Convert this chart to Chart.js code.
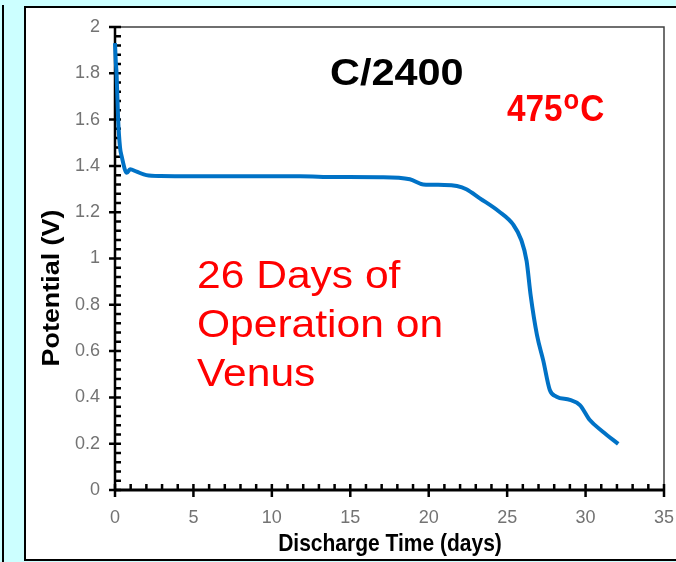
<!DOCTYPE html>
<html>
<head>
<meta charset="utf-8">
<script src="https://cdn.jsdelivr.net/npm/chart.js@4.4.1/dist/chart.umd.min.js"></script>
<style>
  html, body { margin: 0; padding: 0; background: #CCFFFF; }
  canvas { display: block; }
</style>
</head>
<body>
<canvas id="chart-discharge" width="676" height="562"></canvas>
<script>
// discharge curve
const timeDays = [0, 0.05, 0.1, 0.2, 0.32, 0.43, 0.75, 0.96, 1.38, 2.0, 2.9, 6, 11.8, 14, 16.9, 18.8, 19.65, 21.0, 21.8, 22.4, 23.26, 24.5, 25.4, 25.9, 26.24, 26.5, 26.9, 27.3, 27.72, 28.15, 29.0, 29.64, 30.27, 31.1, 32.08];
const potentialV = [1.93, 1.85, 1.80, 1.60, 1.48, 1.44, 1.37, 1.385, 1.375, 1.36, 1.356, 1.355, 1.355, 1.352, 1.351, 1.342, 1.32, 1.318, 1.313, 1.299, 1.26, 1.202, 1.145, 1.08, 0.99, 0.84, 0.67, 0.56, 0.432, 0.403, 0.389, 0.367, 0.302, 0.252, 0.199];

const xTicks = [0, 5, 10, 15, 20, 25, 30, 35];
const xTickLabels = ['0', '5', '10', '15', '20', '25', '30', '35'];
const yTicks = [0, 0.2, 0.4, 0.6, 0.8, 1, 1.2, 1.4, 1.6, 1.8, 2];
const yTickLabels = ['0', '0.2', '0.4', '0.6', '0.8', '1', '1.2', '1.4', '1.6', '1.8', '2'];
const xMinorStep = 1;
const yMinorStep = 0.04;

const FONT = "'Liberation Sans', Arial, sans-serif";
const RED = '#FF0000';

function drawText(ctx, text, x, y, font, color, sx, align, rot) {
    ctx.save();
    ctx.translate(x, y);
    if (rot) ctx.rotate(rot);
    ctx.scale(sx, 1);
    ctx.font = font;
    ctx.fillStyle = color;
    ctx.textAlign = align;
    ctx.textBaseline = 'alphabetic';
    ctx.fillText(text, 0, 0);
    const w = ctx.measureText(text).width * sx;
    ctx.restore();
    return w;
}

const slidePlugin = {
    id: 'slide',
    beforeDraw(chart) {
        const ctx = chart.ctx;
        ctx.save();
        ctx.fillStyle = '#CCFFFF';
        ctx.fillRect(0, 0, chart.width, chart.height);
        ctx.strokeStyle = '#000';
        ctx.lineWidth = 2;
        ctx.beginPath();
        ctx.moveTo(3, 5);
        ctx.lineTo(3, chart.height);
        ctx.stroke();
        ctx.fillStyle = '#FFFFFF';
        ctx.fillRect(24, 6, chart.width - 24, 555);
        ctx.beginPath();
        ctx.moveTo(chart.width + 2, 7);
        ctx.lineTo(25, 7);
        ctx.lineTo(25, 560);
        ctx.lineTo(chart.width + 2, 560);
        ctx.stroke();
        ctx.restore();
    },
    beforeDatasetsDraw(chart) {
        const ctx = chart.ctx;
        const a = chart.chartArea;
        const xs = chart.scales.x;
        const ys = chart.scales.y;
        ctx.save();
        // frame top / right
        ctx.strokeStyle = '#404040';
        ctx.lineWidth = 1.5;
        ctx.beginPath();
        ctx.moveTo(a.left, a.top);
        ctx.lineTo(a.right, a.top);
        ctx.lineTo(a.right, a.bottom);
        ctx.stroke();
        // axes
        ctx.strokeStyle = '#000';
        ctx.lineWidth = 2.5;
        ctx.beginPath();
        ctx.moveTo(a.left, a.top);
        ctx.lineTo(a.left, a.bottom);
        ctx.stroke();
        ctx.lineWidth = 3;
        ctx.beginPath();
        ctx.moveTo(a.left, a.bottom);
        ctx.lineTo(a.right + 1, a.bottom);
        ctx.stroke();
        // ticks
        ctx.lineWidth = 2.5;
        ctx.beginPath();
        for (let v = xs.min; v <= xs.max + 1e-9; v += xMinorStep) {
            const px = xs.getPixelForValue(v);
            const major = xTicks.some(t => Math.abs(t - v) < 1e-6);
            ctx.moveTo(px, a.bottom - 6);
            ctx.lineTo(px, major ? a.bottom + 7 : a.bottom);
        }
        for (let i = 0; i * yMinorStep <= ys.max + 1e-9; i++) {
            const v = i * yMinorStep;
            const py = ys.getPixelForValue(v);
            const major = yTicks.some(t => Math.abs(t - v) < 1e-6);
            ctx.moveTo(major ? a.left - 6 : a.left, py);
            ctx.lineTo(a.left + 6, py);
        }
        ctx.stroke();
        ctx.restore();
    },
    afterDraw(chart) {
        const ctx = chart.ctx;
        // axis titles
        drawText(ctx, 'Potential (V)', 59, 288, 'bold 24px ' + FONT, '#000', 1.12, 'center', -Math.PI / 2);
        drawText(ctx, 'Discharge Time (days)', 390, 551, 'bold 24px ' + FONT, '#000', 0.875, 'center');
        // annotations
        drawText(ctx, 'C/2400', 330, 85, 'bold 37px ' + FONT, '#000', 1.12, 'left');
        let x = 507;
        x += drawText(ctx, '475', x, 121, 'bold 37px ' + FONT, RED, 0.9, 'left') + 1;
        x += drawText(ctx, 'o', x, 109, 'bold 27px ' + FONT, RED, 0.95, 'left') + 1;
        drawText(ctx, 'C', x, 121, 'bold 37px ' + FONT, RED, 0.9, 'left');
        const lines = ['26 Days of', 'Operation on', 'Venus'];
        const baselines = [288, 337, 386];
        lines.forEach((t, i) => drawText(ctx, t, 197, baselines[i], '38px ' + FONT, RED, 1.12, 'left'));
    }
};

new Chart(
    document.getElementById('chart-discharge'),
    {
        type: 'line',
        data: {
            datasets: [
                {
                    data: timeDays.map((t, i) => ({ x: t, y: potentialV[i] })),
                    borderColor: '#0072C6',
                    borderWidth: 4,
                    pointRadius: 0,
                    cubicInterpolationMode: 'monotone',
                    clip: 8
                }
            ]
        },
        options: {
            responsive: false,
            animation: false,
            events: [],
            layout: {
                padding: { left: 0, right: 12, top: 27, bottom: 0 }
            },
            plugins: {
                legend: { display: false },
                tooltip: { enabled: false }
            },
            scales: {
                x: {
                    type: 'linear',
                    min: 0,
                    max: 35,
                    afterBuildTicks: (s) => { s.ticks = xTicks.map(v => ({ value: v })); },
                    afterFit: (s) => { s.height = 72; s.paddingLeft = 0; s.paddingRight = 0; },
                    grid: { display: false, drawTicks: false },
                    border: { display: false },
                    ticks: {
                        color: '#737373',
                        font: { family: FONT, size: 18 },
                        padding: 17,
                        maxRotation: 0,
                        autoSkip: false,
                        callback: (v, i) => xTickLabels[i]
                    }
                },
                y: {
                    type: 'linear',
                    min: 0,
                    max: 2,
                    afterBuildTicks: (s) => { s.ticks = yTicks.map(v => ({ value: v })); },
                    afterFit: (s) => { s.width = 115; s.paddingTop = 0; s.paddingBottom = 0; },
                    grid: { display: false, drawTicks: false },
                    border: { display: false },
                    ticks: {
                        color: '#737373',
                        font: { family: FONT, size: 18 },
                        padding: 15,
                        autoSkip: false,
                        callback: (v, i) => yTickLabels[i]
                    }
                }
            }
        },
        plugins: [slidePlugin]
    }
);
</script>
</body>
</html>
